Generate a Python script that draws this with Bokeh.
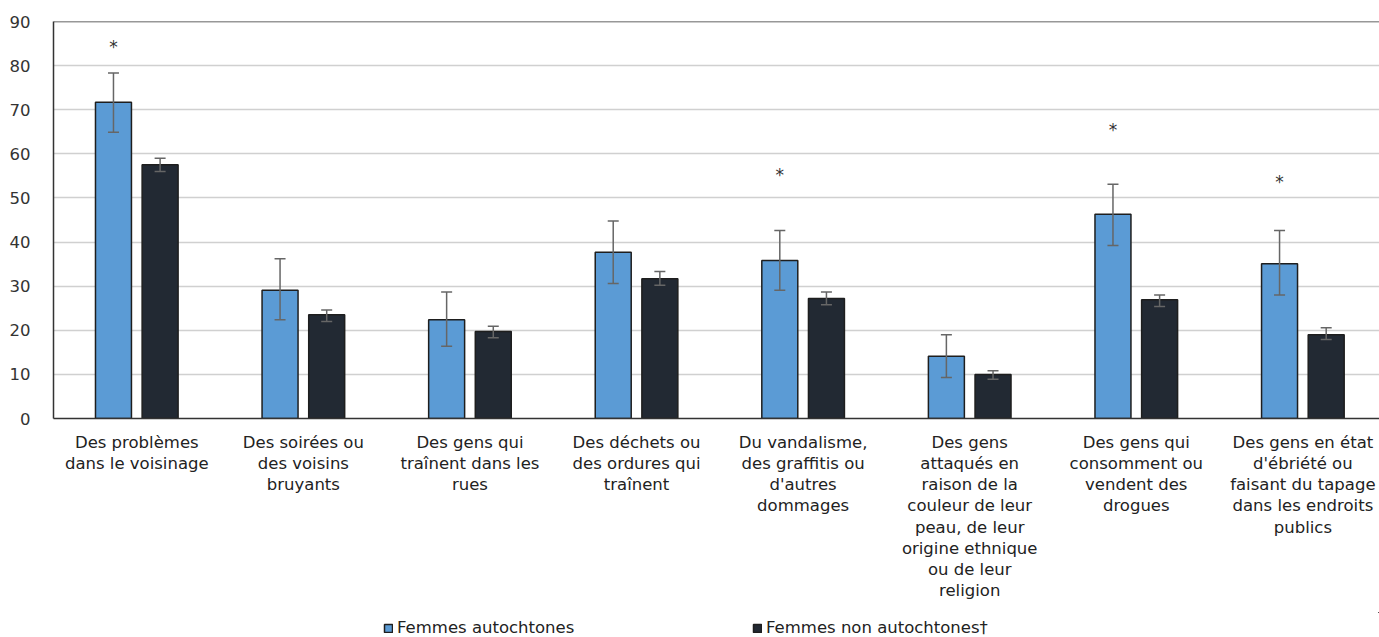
from bokeh.plotting import figure
from bokeh.layouts import column
from bokeh.models import (ColumnDataSource, Range1d, FixedTicker, Whisker, TeeHead,
                          Span, Legend, LegendItem)
from bokeh.core.properties import value
from bokeh.embed import file_html
from bokeh.resources import INLINE

categories = [
    "Des problèmes\ndans le voisinage",
    "Des soirées ou\ndes voisins\nbruyants",
    "Des gens qui\ntraînent dans les\nrues",
    "Des déchets ou\ndes ordures qui\ntraînent",
    "Du vandalisme,\ndes graffitis ou\nd'autres\ndommages",
    "Des gens\nattaqués en\nraison de la\ncouleur de leur\npeau, de leur\norigine ethnique\nou de leur\nreligion",
    "Des gens qui\nconsomment ou\nvendent des\ndrogues",
    "Des gens en état\nd'ébriété ou\nfaisant du tapage\ndans les endroits\npublics",
]
series_names = ["Femmes autochtones", "Femmes non autochtones\u2020"]
auto = [71.7, 29.1, 22.4, 37.7, 35.8, 14.1, 46.3, 35.1]
auto_low = [64.9, 22.4, 16.4, 30.6, 29.1, 9.3, 39.2, 28.0]
auto_high = [78.3, 36.2, 28.7, 44.8, 42.6, 19.0, 53.1, 42.6]
non = [57.5, 23.5, 19.7, 31.7, 27.2, 10.0, 26.9, 19.0]
non_low = [56.0, 22.0, 18.3, 30.2, 25.8, 8.9, 25.4, 17.9]
non_high = [59.0, 24.6, 20.9, 33.3, 28.7, 10.8, 28.0, 20.6]
sig_marks = ["*", "", "", "", "*", "", "*", "*"]
sig_y = [84.2, 0, 0, 0, 55.3, 0, 65.3, 53.7]
y_ticks = [0, 10, 20, 30, 40, 50, 60, 70, 80, 90]

FONT = "DejaVu Sans"
FS = "16.5px"
BLUE = "#5b9bd5"
DARK = "#222933"
EDGE = "#1e1e1e"
n = len(categories)
centers = [i + 0.5 for i in range(n)]
off = 0.14
bw = 0.216

p = figure(width=1379, height=612, output_backend="svg", toolbar_location=None,
           x_range=Range1d(0, 7.96), y_range=Range1d(0, 90),
           min_border_left=53, min_border_right=0, min_border_top=21, min_border_bottom=194)
p.outline_line_color = None
p.background_fill_color = "white"
p.border_fill_color = "white"

src_a = ColumnDataSource(dict(x=[c - off for c in centers], top=auto, lo=auto_low, hi=auto_high))
src_n = ColumnDataSource(dict(x=[c + off for c in centers], top=non, lo=non_low, hi=non_high))

ra = p.vbar(x="x", top="top", width=bw, source=src_a, fill_color=BLUE,
            line_color=EDGE, line_width=1.5)
rn = p.vbar(x="x", top="top", width=bw, source=src_n, fill_color=DARK,
            line_color=EDGE, line_width=1.5)

for src in (src_a, src_n):
    w = Whisker(base="x", upper="hi", lower="lo", source=src,
                line_color="#666666", line_width=1.5, level="overlay",
                upper_head=TeeHead(size=11, line_color="#666666", line_width=1.5),
                lower_head=TeeHead(size=11, line_color="#666666", line_width=1.5))
    p.add_layout(w)

sig_src = ColumnDataSource(dict(x=[centers[i] - off for i in range(n) if sig_marks[i]],
                                y=[sig_y[i] for i in range(n) if sig_marks[i]],
                                t=[sig_marks[i] for i in range(n) if sig_marks[i]]))
p.text(x="x", y="y", text="t", source=sig_src, text_align="center", text_baseline="middle",
       text_font=value(FONT), text_font_size="17px", text_color="#333333")

# top border line
p.add_layout(Span(location=90, dimension="width", line_color="#333333", line_width=1.5))

# grid
p.xgrid.grid_line_color = None
p.ygrid.ticker = FixedTicker(ticks=y_ticks)
p.ygrid.grid_line_color = "#d0d0d0"
p.ygrid.grid_line_width = 1.5

# y axis
p.yaxis.ticker = FixedTicker(ticks=y_ticks)
p.yaxis.major_tick_line_color = None
p.yaxis.minor_tick_line_color = None
p.yaxis.axis_line_color = "#333333"
p.yaxis.axis_line_width = 1.5
p.yaxis.major_label_text_font = FONT
p.yaxis.major_label_text_font_size = FS
p.yaxis.major_label_text_color = "#333333"
p.yaxis.major_label_standoff = 17

# x axis
p.xaxis.ticker = FixedTicker(ticks=centers)
p.xaxis.major_label_overrides = {c: lab for c, lab in zip(centers, categories)}
p.xaxis.major_tick_line_color = None
p.xaxis.minor_tick_line_color = None
p.xaxis.axis_line_color = "#333333"
p.xaxis.axis_line_width = 1.5
p.xaxis.major_label_text_font = FONT
p.xaxis.major_label_text_font_size = FS
p.xaxis.major_label_text_color = "#222222"
p.xaxis.major_label_text_line_height = 1.12
p.xaxis.major_label_standoff = 8

# legend strip (its bars use the same data but lie outside its visible range)
lf = figure(width=1379, height=25, output_backend="svg", toolbar_location=None,
            x_range=Range1d(-3, -2), y_range=Range1d(-3, -2),
            min_border_left=0, min_border_right=0, min_border_top=0, min_border_bottom=0)
lf.axis.visible = False
lf.grid.visible = False
lf.outline_line_color = None
la = lf.vbar(x="x", top="top", width=bw, source=src_a,
             fill_color=BLUE, line_color=EDGE, line_width=1.5)
ln = lf.vbar(x="x", top="top", width=bw, source=src_n,
             fill_color=DARK, line_color=EDGE, line_width=1.5)
for r, name, xloc in ((la, series_names[0], 330), (ln, series_names[1], 699)):
    lg = Legend(items=[LegendItem(label=name, renderers=[r], index=0)], location=(xloc, 0),
                orientation="horizontal", border_line_color=None, background_fill_alpha=0,
                padding=0, margin=0, glyph_width=10, glyph_height=10, label_standoff=4,
                label_height=18, label_text_line_height=1.0,
                label_text_font=FONT, label_text_font_size=FS, label_text_color="#222222")
    lf.add_layout(lg)

layout = column(p, lf, spacing=0)
open("out.html", "w").write(file_html(layout, INLINE))
